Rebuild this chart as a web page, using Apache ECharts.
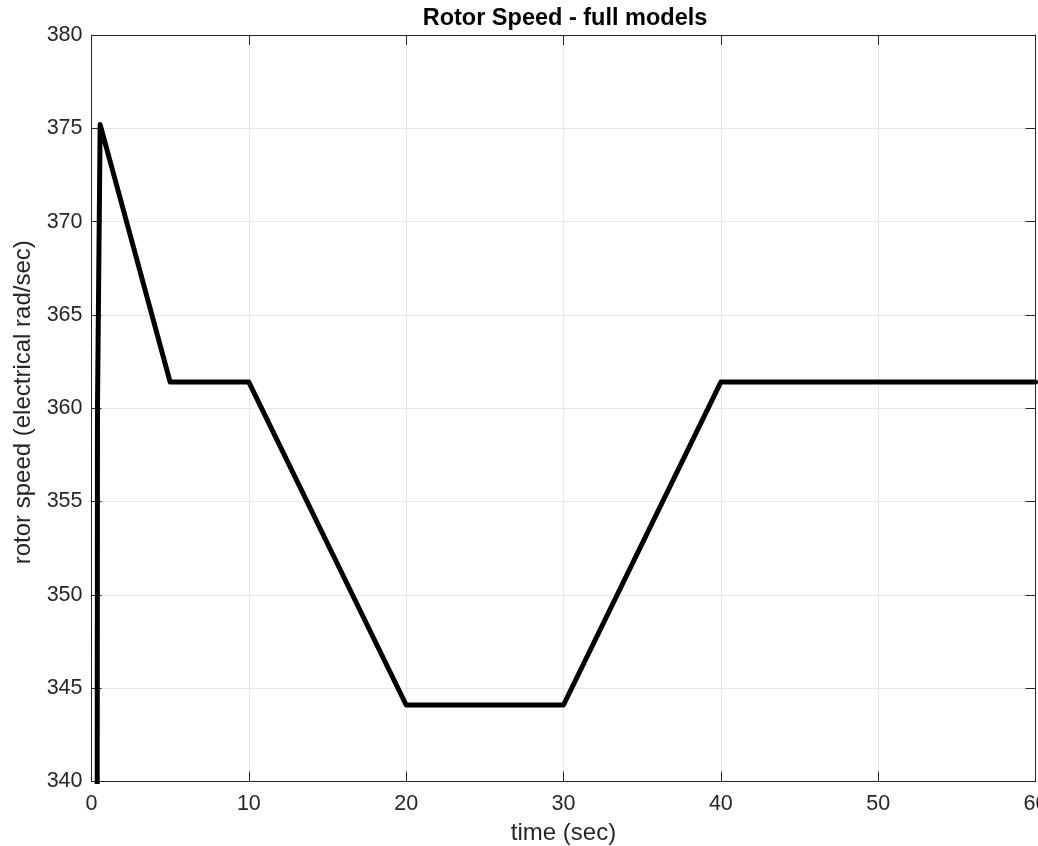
<!DOCTYPE html>
<html>
<head>
<meta charset="utf-8">
<script src="https://cdn.jsdelivr.net/npm/echarts@6/dist/echarts.min.js"></script>
<style>
  html, body { margin: 0; padding: 0; background: #fff; overflow: hidden; }
  #chart { width: 1038px; height: 846px; }
</style>
</head>
<body>
<div id="chart"></div>
<script>
// Simulated rotor speed trace (time in seconds, speed in electrical rad/sec)
const timeSec = [0, 0.33, 0.38, 0.55, 5, 10, 20, 30, 40, 60];
const rotorSpeed = [0, 300, 360, 375.2, 361.4, 361.4, 344.1, 344.1, 361.4, 361.4];
const xTicks = [0, 10, 20, 30, 40, 50, 60];
const yTicks = [340, 345, 350, 355, 360, 365, 370, 375, 380];

const points = timeSec.map((t, i) => [t, rotorSpeed[i]]);
const FONT = '"Liberation Sans", Arial, Helvetica, sans-serif';
const AXIS_COLOR = '#262626';
const GRID_COLOR = '#e6e6e6';
const TICK_FONT = 21.5;
const NAME_FONT = 24;

const chart = echarts.init(document.getElementById('chart'), null, {
  renderer: 'canvas', width: 1038, height: 846
});

const baseX = {
  type: 'value',
  min: xTicks[0],
  max: xTicks[xTicks.length - 1],
  interval: xTicks[1] - xTicks[0],
  axisLine: { show: true, onZero: false, lineStyle: { color: AXIS_COLOR, width: 1 } },
  axisTick: { show: true, inside: true, length: 10, lineStyle: { color: AXIS_COLOR, width: 1 } }
};
const baseY = {
  type: 'value',
  min: yTicks[0],
  max: yTicks[yTicks.length - 1],
  interval: yTicks[1] - yTicks[0],
  axisLine: { show: true, onZero: false, lineStyle: { color: AXIS_COLOR, width: 1 } },
  axisTick: { show: true, inside: true, length: 10, lineStyle: { color: AXIS_COLOR, width: 1 } }
};

chart.setOption({
  backgroundColor: '#ffffff',
  animation: false,
  title: {
    text: 'Rotor Speed - full models',
    left: 560,
    textAlign: 'center',
    top: 2,
    textStyle: { fontFamily: FONT, fontSize: 23.5, fontWeight: 'bold', color: '#000' }
  },
  grid: {
    left: 91.5, right: 2.5, top: 35, bottom: 64.5,
    containLabel: false,
    outerBoundsMode: 'none'
  },
  xAxis: [
    Object.assign({}, baseX, {
      position: 'bottom',
      name: 'time (sec)',
      nameLocation: 'middle',
      nameGap: 40,
      nameTextStyle: { fontFamily: FONT, fontSize: NAME_FONT, color: '#262626' },
      axisLabel: { show: true, margin: 12, fontFamily: FONT, fontSize: TICK_FONT, color: '#262626' },
      splitLine: { show: true, lineStyle: { color: GRID_COLOR, width: 1 } }
    }),
    Object.assign({}, baseX, {
      position: 'top',
      axisLabel: { show: false },
      splitLine: { show: false }
    })
  ],
  yAxis: [
    Object.assign({}, baseY, {
      position: 'left',
      name: 'rotor speed (electrical rad/sec)',
      nameLocation: 'middle',
      nameGap: 54,
      nameTextStyle: { fontFamily: FONT, fontSize: NAME_FONT, color: '#262626', padding: [0, 0, 0, 12] },
      axisLabel: { show: true, margin: 9, fontFamily: FONT, fontSize: TICK_FONT, color: '#262626' },
      splitLine: { show: true, lineStyle: { color: GRID_COLOR, width: 1 } }
    }),
    Object.assign({}, baseY, {
      position: 'right',
      axisLabel: { show: false },
      splitLine: { show: false }
    })
  ],
  series: [{
    type: 'line',
    data: points,
    xAxisIndex: 0,
    yAxisIndex: 0,
    showSymbol: false,
    clip: true,
    lineStyle: { color: '#000000', width: 5, join: 'round', cap: 'round' },
    z: 3
  }]
});
</script>
</body>
</html>
